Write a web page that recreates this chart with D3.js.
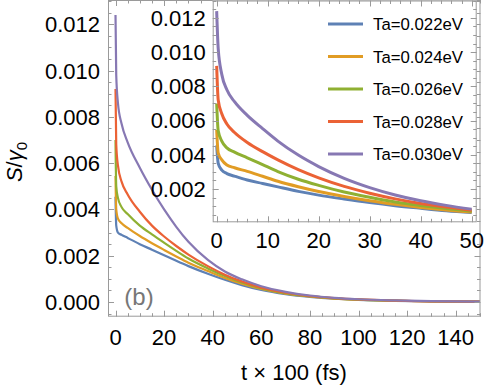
<!DOCTYPE html>
<html><head><meta charset="utf-8">
<script src="https://cdn.jsdelivr.net/npm/d3@7"></script>
<style>body{margin:0;background:#fff}svg{display:block}text{font-family:"Liberation Sans",Arial,sans-serif}</style>
</head><body><svg id="c" width="484" height="390"></svg>
<script>
const seriesNames = ["Ta=0.022eV","Ta=0.024eV","Ta=0.026eV","Ta=0.028eV","Ta=0.030eV"];
const colors = ["#5E81B5","#E19C24","#8FB032","#EB6235","#8778B3"];

// main panel (t from 0 to 150)
const tMain = [0,0.3,1,2.5,5,10,15,20,25,30,38,45,52,60,70,80,90,100,115,130,150];
const main022 = [0.00455,0.0033,0.0030,0.0029,0.00277,0.0025,0.00226,0.00202,0.00178,0.00155,0.00122,0.00096,0.00073,0.00052,0.00034,0.00022,0.00014,0.00009,0.00005,0.00003,0.00002];
const main024 = [0.00545,0.0040,0.0036,0.0034,0.0032,0.00285,0.00254,0.00225,0.00197,0.0017,0.00134,0.00104,0.00079,0.00056,0.00036,0.00024,0.00015,0.0001,0.00006,0.00003,0.00002];
const main026 = [0.0070,0.0050,0.0045,0.0041,0.0038,0.0033,0.00292,0.00256,0.00221,0.00188,0.00145,0.00112,0.00084,0.00059,0.00038,0.00025,0.00016,0.0001,0.00006,0.00003,0.00002];
const main028 = [0.0092,0.0068,0.0059,0.0052,0.00465,0.0039,0.0033,0.00283,0.00242,0.00205,0.00155,0.00118,0.00089,0.00062,0.0004,0.00026,0.00017,0.00011,0.00006,0.00003,0.00002];
const main030 = [0.0124,0.0098,0.0086,0.0077,0.0069,0.0058,0.00485,0.0040,0.00325,0.0026,0.00182,0.00132,0.00098,0.00068,0.00044,0.00028,0.00018,0.00012,0.00007,0.00004,0.00002];

// inset panel (t from 0 to 50)
const tInset = [0,0.3,1,2,3.5,6,9,12,16,20,25,30,35,40,45,50];
const inset022 = [0.00455,0.0035,0.0031,0.0029,0.00275,0.00252,0.00232,0.00212,0.00186,0.00164,0.00141,0.0012,0.00102,0.00087,0.00073,0.00062];
const inset024 = [0.00545,0.0041,0.0037,0.0034,0.00324,0.00303,0.00274,0.00245,0.00213,0.00185,0.00156,0.00131,0.0011,0.00092,0.00077,0.00065];
const inset026 = [0.0070,0.0054,0.0048,0.0044,0.00415,0.00382,0.00342,0.00302,0.00257,0.00221,0.00182,0.00151,0.00124,0.00103,0.00085,0.0007];
const inset028 = [0.0092,0.0072,0.0064,0.0058,0.0053,0.00472,0.00418,0.0037,0.00313,0.00265,0.00215,0.00175,0.00142,0.00115,0.00094,0.00076];
const inset030 = [0.0124,0.0102,0.0087,0.0078,0.0071,0.0063,0.00553,0.0048,0.00398,0.00331,0.00262,0.00208,0.00165,0.00131,0.00104,0.00082];

const mainYTicks = [0,0.002,0.004,0.006,0.008,0.010,0.012];
const mainXTicks = [0,20,40,60,80,100,120,140];
const insetYTicks = [0.002,0.004,0.006,0.008,0.010,0.012];
const insetXTicks = [0,10,20,30,40,50];

const svg = d3.select("#c");
const frameCol = "#9a9a9a";

function drawPanel(g, x, y, tArr, series, opt){
  const [x0,x1] = x.range(), [y0,y1] = y.range();
  g.append("rect").attr("x",x0).attr("y",y1).attr("width",x1-x0).attr("height",y0-y1).attr("fill","#fff");
  const line = d3.line().x(d=>x(d[0])).y(d=>y(d[1])).curve(d3.curveMonotoneX);
  series.forEach((s,i)=>{
    const pts = tArr.map((t,j)=>[t,s[j]]);
    g.append("path").datum(pts).attr("d",line).attr("fill","none")
      .attr("stroke",colors[i]).attr("stroke-width",opt.lw).attr("stroke-linejoin","round");
  });
  const tk = g.append("g").attr("stroke",frameCol).attr("stroke-width",1);
  const xd = x.domain(), yd = y.domain();
  d3.range(Math.ceil(xd[0]/opt.xminor)*opt.xminor, xd[1]+1e-9, opt.xminor).forEach(v=>{
    const isMaj = Math.abs(v/opt.xmajor - Math.round(v/opt.xmajor))<1e-6;
    const L = isMaj?6:3.5, px = Math.round(x(v))+0.5;
    tk.append("line").attr("x1",px).attr("x2",px).attr("y1",y0).attr("y2",y0-L);
    tk.append("line").attr("x1",px).attr("x2",px).attr("y1",y1).attr("y2",y1+L);
  });
  d3.range(Math.ceil(yd[0]/opt.yminor)*opt.yminor, yd[1]+1e-12, opt.yminor).forEach(v=>{
    const isMaj = Math.abs(v/opt.ymajor - Math.round(v/opt.ymajor))<1e-6;
    const L = isMaj?6:3.5, py = Math.round(y(v))+0.5;
    tk.append("line").attr("y1",py).attr("y2",py).attr("x1",x0).attr("x2",x0+L);
    tk.append("line").attr("y1",py).attr("y2",py).attr("x1",x1).attr("x2",x1-L);
  });
  g.append("rect").attr("x",x0+0.5).attr("y",y1+0.5).attr("width",x1-x0-1).attr("height",y0-y1-1)
    .attr("fill","none").attr("stroke",frameCol).attr("stroke-width",1);
  opt.yticks.forEach(v=>{
    g.append("text").attr("x",x0-opt.ylabGap).attr("y",y(v)).attr("dy","0.36em")
      .attr("text-anchor","end").attr("font-size",opt.fs).text(d3.format(".3f")(v));
  });
  opt.xticks.forEach(v=>{
    g.append("text").attr("x",x(v)).attr("y",y0+opt.xlabGap).attr("dy","0.36em")
      .attr("text-anchor","middle").attr("font-size",opt.fs).text(v);
  });
}

// main
const mx = d3.scaleLinear().domain([-3.09,150.2]).range([108,480.5]);
const my = d3.scaleLinear().domain([-0.000635,0.01305]).range([316.7,0]);
const gm = svg.append("g");
drawPanel(gm, mx, my, tMain, [main022,main024,main026,main028,main030],
  {lw:2.2, xminor:5, xmajor:20, yminor:0.0005, ymajor:0.002,
   yticks:mainYTicks, xticks:mainXTicks, fs:22, ylabGap:8, xlabGap:20});

gm.append("text").attr("x",139).attr("y",296).attr("dy","0.36em").attr("text-anchor","middle")
  .attr("font-size",24).attr("fill","#777").text("(b)");

svg.append("text").attr("x",294).attr("y",372).attr("dy","0.36em").attr("text-anchor","middle")
  .attr("font-size",22).text("t × 100 (fs)");
const yl = svg.append("text").attr("transform","translate(22,162) rotate(-90)")
  .attr("text-anchor","middle").attr("font-size",22);
yl.append("tspan").attr("font-style","italic").text("S");
yl.append("tspan").text("/");
yl.append("tspan").attr("font-style","italic").text("γ");
yl.append("tspan").attr("font-size",15).attr("dy",5).text("0");

// inset
const ix = d3.scaleLinear().domain([-0.78,50.98]).range([212.7,476.7]);
const iy = d3.scaleLinear().domain([0.00005,0.01302]).range([222.3,0.5]);
const gi = svg.append("g");
drawPanel(gi, ix, iy, tInset, [inset022,inset024,inset026,inset028,inset030],
  {lw:3, xminor:2, xmajor:10, yminor:0.0005, ymajor:0.002,
   yticks:insetYTicks, xticks:insetXTicks, fs:22, ylabGap:7, xlabGap:18});

const legY = [24,56.5,89,121.5,154];
seriesNames.forEach((n,i)=>{
  gi.append("line").attr("x1",328).attr("x2",363).attr("y1",legY[i]).attr("y2",legY[i])
    .attr("stroke",colors[i]).attr("stroke-width",3);
  gi.append("text").attr("x",373).attr("y",legY[i]).attr("dy","0.36em").attr("font-size",16.8).text(n);
});
</script></body></html>
